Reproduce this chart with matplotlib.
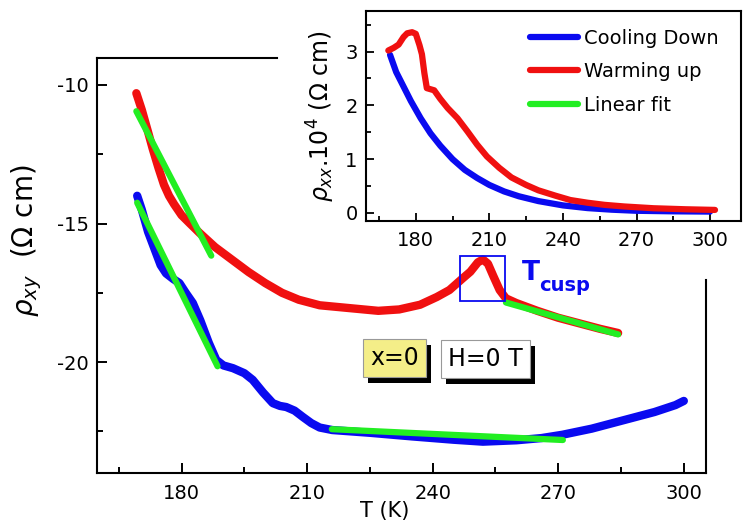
import matplotlib
matplotlib.use("Agg")
import matplotlib.pyplot as plt
from matplotlib.patches import Rectangle
import matplotlib.patheffects as pe

# ---------------- data ----------------
# main panel: Hall resistivity rho_xy
warm_T = [169.2, 170.5, 172.0, 173.1, 174.5, 175.8, 177.0, 178.2, 180.0, 182.0, 184.3, 188.0,
          192.0, 196.0, 200.0, 204.0, 208.0, 213.0, 220.0, 227.0, 232.0, 237.0, 241.0, 244.0,
          247.0, 249.0, 250.8, 252.0, 253.2, 254.5, 256.0, 257.5, 260.0, 265.0, 270.0, 275.0,
          280.0, 284.3]
warm_rho = [-10.3, -10.9, -11.7, -12.3, -13.0, -13.6, -14.0, -14.3, -14.7, -15.0, -15.34, -15.85,
            -16.3, -16.75, -17.15, -17.5, -17.75, -17.95, -18.05, -18.15, -18.1, -17.93, -17.65, -17.4,
            -17.0, -16.74, -16.4, -16.3, -16.45, -16.9, -17.4, -17.7, -17.87, -18.15, -18.4, -18.6,
            -18.8, -18.95]

cool_T = [169.4, 170.5, 172.0, 173.5, 175.0, 176.3, 178.0, 179.5, 181.0, 182.7, 184.5, 186.5,
          188.3, 190.0, 192.3, 195.0, 197.0, 199.5, 201.8, 203.5, 205.0, 207.0, 209.0, 211.0,
          213.0, 216.0, 225.0, 235.0, 245.0, 252.0, 260.0, 266.0, 271.0, 278.0, 286.0, 293.0,
          298.0, 300.0]
cool_rho = [-14.0, -14.5, -15.3, -15.9, -16.5, -16.8, -17.0, -17.15, -17.5, -17.87, -18.5, -19.3,
            -19.92, -20.12, -20.22, -20.4, -20.64, -21.1, -21.48, -21.58, -21.62, -21.75, -21.98, -22.2,
            -22.36, -22.45, -22.55, -22.68, -22.8, -22.87, -22.82, -22.74, -22.62, -22.4, -22.08, -21.8,
            -21.55, -21.4]

fit_warm_low_T = [169.2, 187.1]
fit_warm_low_rho = [-10.95, -16.16]
fit_warm_high_T = [257.5, 284.3]
fit_warm_high_rho = [-17.85, -19.0]
fit_cool_low_T = [169.4, 188.6]
fit_cool_low_rho = [-14.25, -20.15]
fit_cool_high_T = [215.9, 271.1]
fit_cool_high_rho = [-22.42, -22.81]

# inset: longitudinal resistivity rho_xx * 10^4
in_warm_T = [168.8, 171.0, 173.0, 175.0, 176.5, 178.5, 180.0, 181.5, 182.5, 183.5, 184.5, 186.0,
             187.5, 190.0, 193.0, 197.0, 201.0, 205.0, 209.0, 214.0, 219.0, 225.0, 230.0, 237.0,
             243.0, 250.0, 257.0, 265.0, 277.0, 290.0, 302.0]
in_warm_rho = [3.02, 3.07, 3.13, 3.27, 3.34, 3.36, 3.33, 3.12, 2.95, 2.6, 2.32, 2.30,
               2.28, 2.12, 1.95, 1.76, 1.52, 1.27, 1.05, 0.84, 0.66, 0.52, 0.42, 0.32,
               0.24, 0.19, 0.15, 0.12, 0.087, 0.068, 0.056]
in_cool_T = [169.5, 172.0, 175.0, 178.0, 182.0, 186.0, 190.0, 195.0, 200.0, 205.0, 210.0, 216.0,
             222.0, 230.0, 240.0, 250.0, 260.0, 270.0, 285.0, 300.0]
in_cool_rho = [2.94, 2.62, 2.35, 2.08, 1.76, 1.48, 1.25, 1.0, 0.80, 0.65, 0.52, 0.40,
               0.31, 0.22, 0.14, 0.09, 0.06, 0.04, 0.03, 0.025]

main_xticks = [180, 210, 240, 270, 300]
main_yticks = [-10, -15, -20]
inset_xticks = [180, 210, 240, 270, 300]
inset_yticks = [0, 1, 2, 3]
legend_labels = ["Cooling Down", "Warming up", "Linear fit"]

BLUE = "#0a0af0"
RED = "#f01010"
GREEN = "#22ee22"

plt.rcParams["font.family"] = ["DejaVu Sans"]
plt.rcParams["mathtext.fontset"] = "dejavusans"
plt.rcParams["axes.unicode_minus"] = False

fig = plt.figure(figsize=(7.45, 5.24), dpi=100)

# ---------------- main axes ----------------
ax = fig.add_axes([97 / 745, 1 - 473 / 524, (706 - 97) / 745, (473 - 58) / 524])
ax.plot(warm_T, warm_rho, color=RED, lw=6, solid_capstyle="round", zorder=2)
ax.plot(cool_T, cool_rho, color=BLUE, lw=6, solid_capstyle="round", zorder=2)
for xs, ys in [(fit_warm_low_T, fit_warm_low_rho), (fit_warm_high_T, fit_warm_high_rho),
               (fit_cool_low_T, fit_cool_low_rho), (fit_cool_high_T, fit_cool_high_rho)]:
    ax.plot(xs, ys, color=GREEN, lw=4.5, solid_capstyle="round", zorder=3)

ax.set_xlim(159.8, 305.3)
ax.set_ylim(-24.0, -9.03)
ax.set_xticks(main_xticks)
ax.set_xticks([165, 195, 225, 255, 285], minor=True)
ax.set_yticks(main_yticks)
ax.set_yticks([-12.5, -17.5, -22.5], minor=True)
ax.tick_params(which="both", direction="in", width=1.4, labelsize=14, top=False, right=False)
ax.tick_params(which="major", length=7)
ax.tick_params(which="minor", length=4)
ax.tick_params(axis="x", pad=8)
ax.tick_params(axis="y", pad=6)
for s in ax.spines.values():
    s.set_linewidth(1.5)
ax.spines["top"].set_bounds(159.8, 202.7)
ax.spines["right"].set_bounds(-24.0, -17.03)

ax.set_xlabel("T (K)", fontsize=15, labelpad=0)
ax.xaxis.set_label_coords((385 - 97) / 609, -0.068)
ax.set_ylabel(r"$\rho_{xy}$  ($\Omega$ cm)", fontsize=20, labelpad=8)
ax.yaxis.set_label_coords(-0.087, 0.56)

# T_cusp box
ax.add_patch(Rectangle((246.5, -17.78), 10.7, 1.62, fill=False, edgecolor=BLUE, lw=1.3, zorder=4))
ax.text(261.2, -17.03, "T", color=BLUE, fontsize=19, fontweight="bold", va="baseline")
ax.text(265.4, -17.45, "cusp", color=BLUE, fontsize=14, fontweight="bold", va="baseline")

# annotation boxes
t1 = ax.text(225.0, -19.86, "x=0", fontsize=17, ha="left", va="center",
             bbox=dict(boxstyle="square,pad=0.3", facecolor="#f4ee88", edgecolor="#999999", lw=0.8))
t1.get_bbox_patch().set_path_effects([pe.withSimplePatchShadow(offset=(4, -4), shadow_rgbFace="black", alpha=1.0)])
t2 = ax.text(243.6, -19.9, "H=0 T", fontsize=17, ha="left", va="center",
             bbox=dict(boxstyle="square,pad=0.3", facecolor="white", edgecolor="#999999", lw=0.8))
t2.get_bbox_patch().set_path_effects([pe.withSimplePatchShadow(offset=(4, -4), shadow_rgbFace="black", alpha=1.0)])

# ---------------- inset ----------------
axi = fig.add_axes([366 / 745, 1 - 221 / 524, (741 - 366) / 745, (221 - 10.7) / 524])
axi.plot(in_cool_T, in_cool_rho, color=BLUE, lw=4.5, solid_capstyle="round", label=legend_labels[0])
axi.plot(in_warm_T, in_warm_rho, color=RED, lw=4.5, solid_capstyle="round", label=legend_labels[1])
axi.plot([], [], color=GREEN, lw=4.5, solid_capstyle="round", label=legend_labels[2])
axi.set_xlim(159.7, 312.6)
axi.set_ylim(-0.15, 3.76)
axi.set_xticks(inset_xticks)
axi.set_xticks([165, 195, 225, 255, 285], minor=True)
axi.set_yticks(inset_yticks)
axi.set_yticks([0.5, 1.5, 2.5, 3.5], minor=True)
axi.tick_params(which="both", direction="in", width=1.3, labelsize=14, top=False, right=False)
axi.tick_params(which="major", length=6)
axi.tick_params(which="minor", length=3.5)
axi.tick_params(axis="x", pad=7)
axi.tick_params(axis="y", pad=6)
for s in axi.spines.values():
    s.set_linewidth(1.5)
axi.set_ylabel(r"$\rho_{xx}$.10$^4$ ($\Omega$ cm)", fontsize=17, labelpad=6)
axi.legend(loc="upper left", bbox_to_anchor=(0.40, 0.98), frameon=False, fontsize=14,
           handlelength=2.5, handletextpad=0.3, labelspacing=0.75, borderaxespad=0.3)

fig.savefig("out.png", dpi=100)
